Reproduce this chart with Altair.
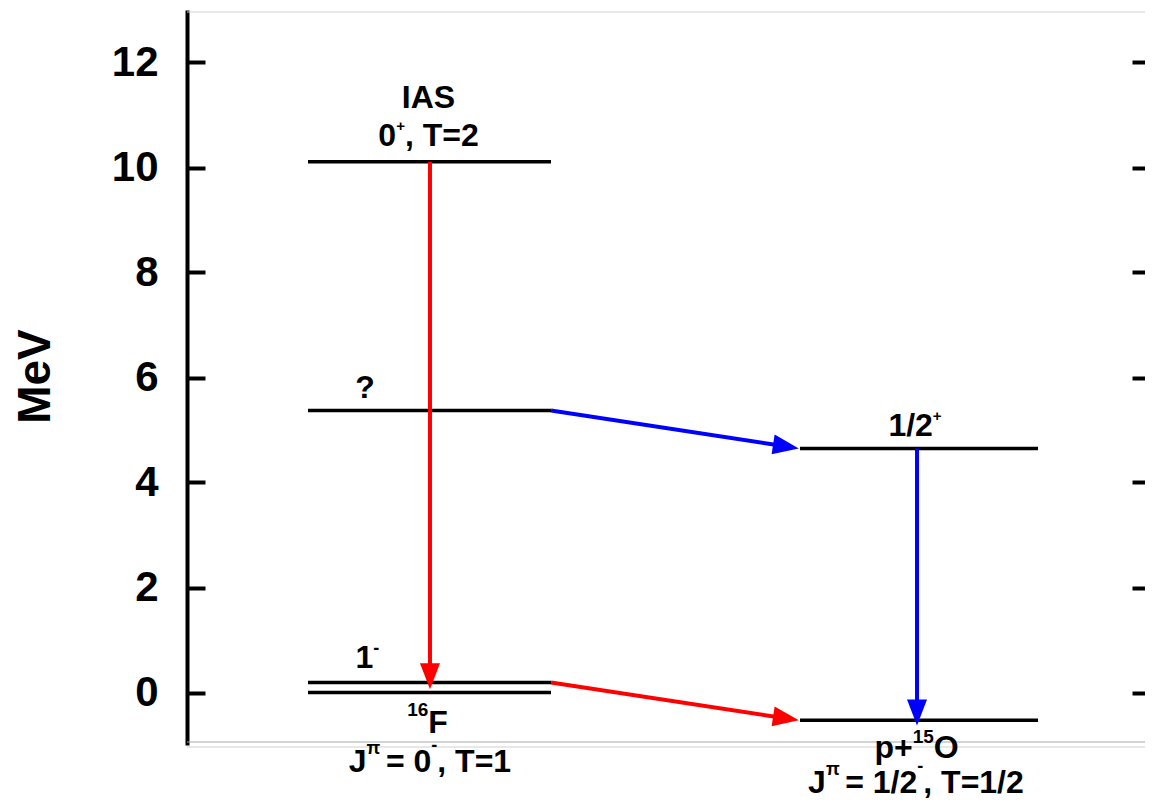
import math
import altair as alt
import pandas as pd

# ---------------- data ----------------
level_names = ["IAS", "?", "1-", "16F", "1/2+", "p+15O"]
level_energy = [10.11, 5.37, 0.19, 0.0, 4.65, -0.53]
level_x_start = [1.254, 1.254, 1.254, 1.254, 6.352, 6.352]
level_x_end = [3.772, 3.772, 3.772, 3.772, 8.819, 8.819]

arrow_x_from = [2.518, 3.772, 3.772, 7.565]
arrow_e_from = [10.11, 5.37, 0.19, 4.65]
arrow_x_to = [2.518, 6.34, 6.34, 7.565]
arrow_e_to = [0.06, 4.65, -0.53, -0.63]
arrow_colors = ["#ff0000", "#0000ff", "#ff0000", "#0000ff"]

tick_values = [0, 2, 4, 6, 8, 10, 12]

# text lines: centre x, baseline energy, pieces (text, style)
label_center_x = [2.503, 2.503, 1.845, 1.870, 2.492, 2.518, 7.544, 7.560, 7.554]
label_baseline = [11.124, 10.419, 5.619, 0.476, -0.762, -1.505, 4.895, -1.257, -1.905]
label_pieces = [
    [("IAS", 0)],
    [("0", 0), ("+", 1), (", T=2", 0)],
    [("?", 0)],
    [("1", 0), ("-", 2)],
    [("16", 3), ("F", 0)],
    [("J", 0), ("π", 4), (" = 0", 0), ("-", 5), (", T=1", 0)],
    [("1/2", 0), ("+", 1)],
    [("p+", 0), ("15", 6), ("O", 0)],
    [("J", 0), ("π", 4), (" = 1/2", 0), ("-", 5), (", T=1/2", 0)],
]

# ---------------- layout / style ----------------
PX, PY = 96.5, 52.5          # pixels per data unit
W, H = 958, 735
X_DOM = [0, W / PX]
Y_DOM = [-1, 13]
FONT = "Liberation Sans"
STYLE = {0: (32, 0), 1: (15, 15), 2: (18, 14), 3: (19, 17), 4: (18, 18), 5: (18, 21), 6: (19, 15)}
EM = {" ": .278, ",": .278, "=": .584, "+": .584, "-": .333, "/": .278, "?": .611,
      "A": .722, "F": .611, "I": .278, "J": .556, "O": .778, "S": .667, "T": .611,
      "p": .611, "π": .58}
for d in "0123456789":
    EM[d] = .556


def text_width(s, size):
    return sum(EM.get(c, .6) for c in s) * size


xs = alt.Scale(domain=X_DOM, nice=False, zero=False)
ys = alt.Scale(domain=Y_DOM, nice=False, zero=False)

# ---------------- tables ----------------
levels = pd.DataFrame({"name": level_names, "E": level_energy,
                       "x1": level_x_start, "x2": level_x_end})

HEAD_LEN = 26
BACK = 14
rows = []
for xa, ea, xb, eb, c in zip(arrow_x_from, arrow_e_from, arrow_x_to, arrow_e_to, arrow_colors):
    dxp = (xb - xa) * PX
    dyp = -(eb - ea) * PY
    L = math.hypot(dxp, dyp)
    ux, uy = dxp / L, dyp / L
    ang = (math.degrees(math.atan2(dyp, dxp)) - 90) % 360
    rows.append({"xa": xa, "ea": ea, "xb": xb, "eb": eb,
                 "xs": xb - BACK * ux / PX, "es": eb + BACK * uy / PY,
                 "c": c, "ang": ang})
arrows = pd.DataFrame(rows)

trows = []
for cx, by, pieces in zip(label_center_x, label_baseline, label_pieces):
    widths = [text_width(t, STYLE[s][0]) for t, s in pieces]
    left = -sum(widths) / 2
    cum = 0
    for (t, s), w in zip(pieces, widths):
        size, rise = STYLE[s]
        stripped = t.lstrip(" ")
        lead = text_width(t[:len(t) - len(stripped)], size)
        trows.append({"t": stripped, "x": cx + (left + cum + lead) / PX,
                      "y": by + rise / PY, "fs": size})
        cum += w
texts = pd.DataFrame(trows)

frame = pd.DataFrame({"y": [Y_DOM[1], Y_DOM[0]], "x": [X_DOM[0]] * 2, "x2": [X_DOM[1]] * 2})

# ---------------- axes ----------------
axis_ticks_left = alt.Axis(orient="left", offset=-18, tickSize=18, tickWidth=4, tickColor="black",
                           domain=False, labels=False, grid=False, values=tick_values, title=None)
axis_labels = alt.Axis(orient="left", offset=0, domain=True, domainWidth=4, domainColor="black",
                       ticks=False, tickSize=0, labelPadding=29, labelFont=FONT, labelFontSize=42,
                       labelFontWeight="bold", labelColor="black", grid=False, values=tick_values,
                       labelOverlap=False, title="MeV", titleFont=FONT, titleFontSize=46,
                       titleFontWeight="bold", titleColor="black", titleAngle=270,
                       titleX=-152, titleY=366, titleAlign="center", titleBaseline="middle")
axis_ticks_right = alt.Axis(orient="right", offset=-13, tickSize=13, tickWidth=4, tickColor="black",
                            domain=False, labels=False, grid=False, values=tick_values, title=None)

# ---------------- layers ----------------
g1 = alt.Chart(frame).mark_rule(color="#a8a8a8", strokeWidth=1, yOffset=-3).encode(
    x=alt.X("x:Q", scale=xs, axis=None), x2="x2:Q", y=alt.Y("y:Q", scale=ys, axis=None))
g2 = alt.Chart(frame).mark_rule(color="#d0d0d0", strokeWidth=1, yOffset=2).encode(
    x=alt.X("x:Q", scale=xs, axis=None), x2="x2:Q", y=alt.Y("y:Q", scale=ys, axis=None))

lev = alt.Chart(levels).mark_rule(color="black", strokeWidth=3.5).encode(
    x=alt.X("x1:Q", scale=xs, axis=None), x2="x2:Q",
    y=alt.Y("E:Q", scale=ys, axis=axis_ticks_left))

shafts = alt.Chart(arrows).mark_rule(strokeWidth=4).encode(
    x=alt.X("xa:Q", scale=xs, axis=None), x2="xs:Q",
    y=alt.Y("ea:Q", scale=ys, axis=axis_labels), y2="es:Q",
    color=alt.Color("c:N", scale=None))

head_path = "M0,0 L-0.385,-1 L0.385,-1 Z"
heads = alt.Chart(arrows).mark_point(shape=head_path, filled=True, size=(2 * HEAD_LEN) ** 2,
                                     opacity=1, strokeWidth=0).encode(
    x=alt.X("xb:Q", scale=xs, axis=None),
    y=alt.Y("eb:Q", scale=ys, axis=axis_ticks_right),
    color=alt.Color("c:N", scale=None),
    angle=alt.Angle("ang:Q", scale=None))

txt = alt.Chart(texts).mark_text(align="left", baseline="alphabetic", font=FONT,
                                 fontWeight="bold", color="black").encode(
    x=alt.X("x:Q", scale=xs, axis=None),
    y=alt.Y("y:Q", scale=ys, axis=None),
    text="t:N",
    size=alt.Size("fs:Q", scale=None))

chart = alt.layer(g1, g2, lev, shafts, heads, txt).resolve_axis(y="independent").properties(
    width=W, height=H,
    autosize=alt.AutoSizeParams(type="none"),
    padding={"left": 179, "top": 2, "right": 0, "bottom": 54},
).configure_view(strokeWidth=0)

chart.save("out.html", embed_options={"renderer": "svg", "actions": False})
